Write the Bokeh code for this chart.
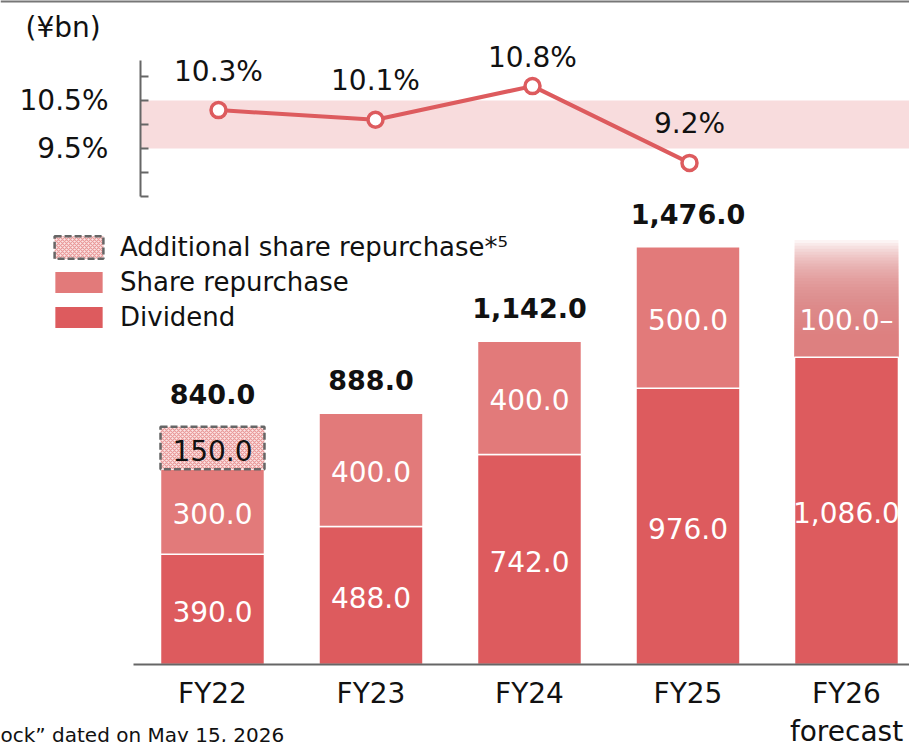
from bokeh.plotting import figure
from bokeh.models import (Range1d, LinearAxis, FixedTicker, Legend,
                          LegendItem, Label, ColumnDataSource, PrintfTickFormatter)
from bokeh.core.properties import value
from bokeh.embed import file_html
from bokeh.resources import INLINE

# ---------------- data ----------------
fiscal_years = ["FY22", "FY23", "FY24", "FY25", "FY26"]
axis_labels = ["FY22", "FY23", "FY24", "FY25", "FY26\nforecast"]
dividend = [390.0, 488.0, 742.0, 976.0, 1086.0]
share_repurchase = [300.0, 400.0, 400.0, 500.0, 100.0]
additional_repurchase = [150.0, 0.0, 0.0, 0.0, 0.0]
is_forecast = [False, False, False, False, True]
forecast_suffix = "–"
payout_pct = [10.3, 10.1, 10.8, 9.2]          # FY22 - FY25
target_band = [9.5, 10.5]
pct_major_ticks = [9.5, 10.5]
pct_minor_ticks = [8.5, 9.0, 10.0, 11.0]
unit_label = "(¥bn)"
footnote = "ock\u201d dated on May 15, 2026"
legend_labels = ["Additional share repurchase*\u2075", "Share repurchase", "Dividend"]

# ---------------- styles ----------------
FONT = "DejaVu Sans"
C_DIV = "#dd5b5e"
C_REP = "#e27a7a"
C_BAND = "#f8dcdd"
C_AXIS = "#666666"
C_TEXT = "#111111"
FADE_TOP = 1500.0
BAR_W = 0.656
W, H = 909, 742
X_RANGE = (-1.3375, 4.3975)
Y_RANGE = (-275.6, 2346.3)
PCT_RANGE = (-2.875, 12.5833)
LINE_X_RANGE = (-1.3885, 4.4013)
PCT_AXIS_AT = -0.4543      # x position of the percentage axis (bar-x units)
PCT_AXIS_BOUNDS = (8.5, 11.34)

p = figure(width=W, height=H, output_backend="svg", toolbar_location=None,
           x_range=Range1d(*X_RANGE), y_range=Range1d(*Y_RANGE),
           x_axis_location=None, y_axis_location=None,
           min_border_left=0, min_border_right=0, min_border_top=0, min_border_bottom=0)
p.outline_line_color = None
p.xgrid.visible = False
p.ygrid.visible = False
p.background_fill_color = "white"
p.border_fill_color = "white"

p.extra_y_ranges = {"pct": Range1d(*PCT_RANGE)}
p.extra_x_ranges = {"line_x": Range1d(*LINE_X_RANGE)}

# target band (starts at the percentage axis)
p.quad(left=[PCT_AXIS_AT], right=[X_RANGE[1] + 1], bottom=[target_band[0]], top=[target_band[1]],
       y_range_name="pct", fill_color=C_BAND, line_color=None, level="underlay")

n = len(fiscal_years)
xs = list(range(n))

# dividend bars
div_src = ColumnDataSource(dict(x=xs, top=dividend, bottom=[0.0] * n))
r_div = p.vbar(x="x", top="top", bottom="bottom", width=BAR_W, source=div_src,
               fill_color=C_DIV, line_color="white", line_width=1.5)

# share repurchase (actual)
act = [i for i in range(n) if not is_forecast[i]]
rep_src = ColumnDataSource(dict(
    x=[xs[i] for i in act],
    bottom=[dividend[i] for i in act],
    top=[dividend[i] + share_repurchase[i] for i in act]))
r_rep = p.vbar(x="x", top="top", bottom="bottom", width=BAR_W, source=rep_src,
               fill_color=C_REP, line_color="white", line_width=1.5)

# forecast repurchase: fading bar (overlapping translucent layers)
fc = [i for i in range(n) if is_forecast[i]]
steps = 40
fx, fb, ft = [], [], []
for i in fc:
    base = dividend[i]
    h = (FADE_TOP - base) / steps
    for k in range(1, steps + 1):
        fx.append(xs[i]); fb.append(base); ft.append(base + k * h)
p.vbar(x=fx, top=ft, bottom=fb, width=BAR_W, fill_color=C_REP, fill_alpha=0.085, line_color=None)
p.vbar(x=[xs[i] for i in fc], top=[dividend[i] for i in fc], bottom=[0.0 for i in fc],
       width=BAR_W, fill_color=C_DIV, line_color="white", line_width=1.5)

# additional repurchase
add = [i for i in range(n) if additional_repurchase[i] > 0]
add_src = ColumnDataSource(dict(
    x=[xs[i] for i in add],
    bottom=[dividend[i] + share_repurchase[i] for i in add],
    top=[dividend[i] + share_repurchase[i] + additional_repurchase[i] for i in add]))
r_add = p.vbar(x="x", top="top", bottom="bottom", width=BAR_W, source=add_src,
               fill_color="#fbe4e4", hatch_pattern="diagonal_cross", hatch_color="#e99a9a",
               hatch_scale=4, hatch_weight=1.2,
               line_color=C_AXIS, line_width=2.5, line_dash="7 3")

# labels inside bars
p.text(x=xs, y=[d / 2 for d in dividend], text=[f"{d:,.1f}" for d in dividend],
       text_color="white", text_font=value(FONT), text_font_size=value("28px"),
       text_align="center", text_baseline="middle", y_offset=2)
p.text(x=[xs[i] for i in act], y=[dividend[i] + share_repurchase[i] / 2 for i in act],
       text=[f"{share_repurchase[i]:,.1f}" for i in act],
       text_color="white", text_font=value(FONT), text_font_size=value("28px"),
       text_align="center", text_baseline="middle", y_offset=2)
p.text(x=[xs[i] for i in fc], y=[dividend[i] + share_repurchase[i] for i in fc],
       text=[f"{share_repurchase[i]:,.1f}{forecast_suffix}" for i in fc],
       text_color="white", text_font=value(FONT), text_font_size=value("28px"),
       text_align="center", text_baseline="middle", y_offset=-8)
p.text(x=[xs[i] for i in add],
       y=[dividend[i] + share_repurchase[i] + additional_repurchase[i] / 2 for i in add],
       text=[f"{additional_repurchase[i]:,.1f}" for i in add],
       text_color=C_TEXT, text_font=value(FONT), text_font_size=value("28px"),
       text_align="center", text_baseline="middle", y_offset=2)

# totals
totals = [dividend[i] + share_repurchase[i] + additional_repurchase[i] for i in act]
p.text(x=[xs[i] for i in act], y=totals, text=[f"{t:,.1f}" for t in totals],
       text_color=C_TEXT, text_font=value(FONT), text_font_size=value("27px"),
       text_font_style="bold", text_align="center", text_baseline="middle", y_offset=-33)

# payout line
lx = list(range(len(payout_pct)))
p.line(x=lx, y=payout_pct, x_range_name="line_x", y_range_name="pct",
       line_color=C_DIV, line_width=4)
p.scatter(x=lx, y=payout_pct, x_range_name="line_x", y_range_name="pct", size=15,
          fill_color="white", line_color=C_DIV, line_width=3.5)
p.text(x=lx, y=payout_pct, text=[f"{v:.1f}%" for v in payout_pct],
       x_range_name="line_x", y_range_name="pct",
       text_color=C_TEXT, text_font=value(FONT), text_font_size=value("28px"),
       text_align="center", text_baseline="middle", y_offset=[-39, -39, -29, -39])

# percent axis
pax = LinearAxis(y_range_name="pct", fixed_location=PCT_AXIS_AT,
                 ticker=FixedTicker(ticks=pct_major_ticks, minor_ticks=pct_minor_ticks),
                 formatter=PrintfTickFormatter(format="%.1f%%"),
                 bounds=PCT_AXIS_BOUNDS)
pax.axis_line_color = C_AXIS
pax.axis_line_width = 2
pax.major_tick_in = 8
pax.major_tick_out = 0
pax.minor_tick_in = 8
pax.minor_tick_out = 0
pax.major_tick_line_color = C_AXIS
pax.minor_tick_line_color = C_AXIS
pax.major_tick_line_width = 2
pax.minor_tick_line_width = 2
pax.major_label_standoff = 32
pax.major_label_text_font = FONT
pax.major_label_text_font_size = "28px"
pax.major_label_text_color = C_TEXT
p.add_layout(pax, "left")

# category axis
xax = LinearAxis(ticker=FixedTicker(ticks=xs), fixed_location=0,
                 major_label_overrides={i: axis_labels[i] for i in xs},
                 bounds=(-0.5, X_RANGE[1] + 1))
xax.axis_line_color = C_AXIS
xax.axis_line_width = 2
xax.major_tick_line_color = None
xax.minor_tick_line_color = None
xax.major_label_standoff = 6
xax.major_label_text_font = FONT
xax.major_label_text_font_size = "28px"
xax.major_label_text_color = C_TEXT
xax.major_label_text_line_height = 1.17
p.add_layout(xax, "below")

# thin rule along the top edge
top_rule = LinearAxis(ticker=FixedTicker(ticks=[]), fixed_location=Y_RANGE[1])
top_rule.axis_line_color = "#777777"
top_rule.axis_line_width = 4
top_rule.major_tick_line_color = None
top_rule.minor_tick_line_color = None
top_rule.major_label_text_font_size = "0px"
p.add_layout(top_rule, "above")

# legend
legend = Legend(items=[LegendItem(label=legend_labels[0], renderers=[r_add]),
                       LegendItem(label=legend_labels[1], renderers=[r_rep]),
                       LegendItem(label=legend_labels[2], renderers=[r_div])],
                location=(48, 410), glyph_width=61, glyph_height=28, label_height=22,
                label_standoff=11, spacing=5, padding=0, margin=0,
                border_line_alpha=0, background_fill_alpha=0,
                label_text_font=FONT, label_text_font_size="26px", label_text_color=C_TEXT)
p.add_layout(legend)

p.add_layout(Label(x=25, y=H - 27, x_units="screen", y_units="screen", text=unit_label,
                   text_font=FONT, text_font_size="28px", text_color=C_TEXT,
                   text_baseline="middle", text_align="left"))
p.add_layout(Label(x=0, y=8, x_units="screen", y_units="screen", text=footnote,
                   text_font=FONT, text_font_size="20px", text_color=C_TEXT,
                   text_baseline="middle", text_align="left"))

open("out.html", "w").write(file_html(p, INLINE))
